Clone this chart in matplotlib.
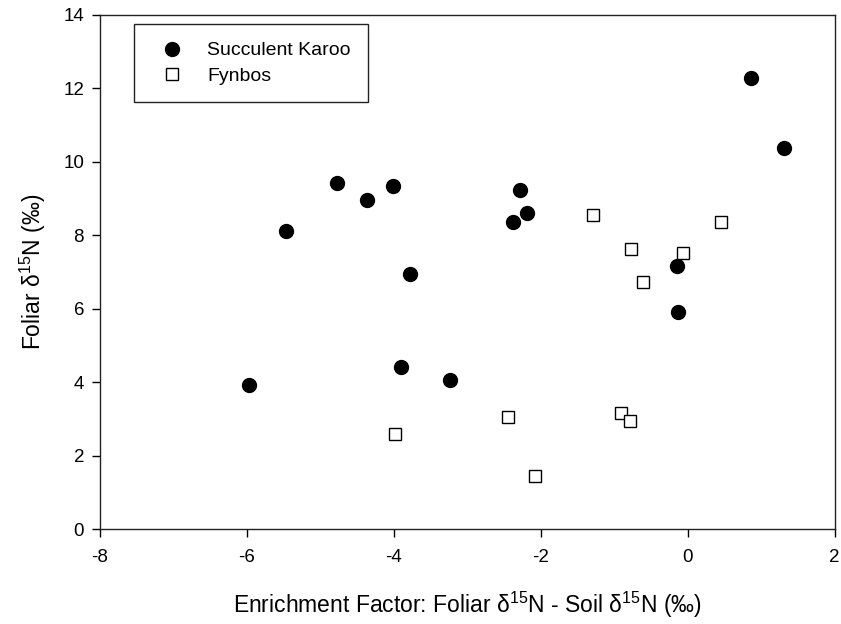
import matplotlib
matplotlib.use("Agg")
import matplotlib.pyplot as plt

plt.rcParams['font.family'] = ['Liberation Sans', 'DejaVu Sans']
plt.rcParams['mathtext.fontset'] = 'custom'
plt.rcParams['mathtext.rm'] = 'Liberation Sans'

# Succulent Karoo (filled circles)
sk_x = [-5.97, -5.47, -4.78, -4.37, -4.01, -3.78, -3.90, -3.24, -2.28, -2.19, -2.38, -0.14, -0.13, 0.86, 1.31]
sk_y = [3.93, 8.13, 9.42, 8.96, 9.35, 6.95, 4.42, 4.06, 9.22, 8.60, 8.36, 7.17, 5.90, 12.27, 10.39]

# Fynbos (open squares)
fy_x = [-1.29, -0.775, -0.07, -0.61, 0.45, -3.99, -2.45, -2.08, -0.91, -0.78]
fy_y = [8.55, 7.63, 7.51, 6.72, 8.37, 2.60, 3.04, 1.44, 3.15, 2.95]

xticks = [-8, -6, -4, -2, 0, 2]
yticks = [0, 2, 4, 6, 8, 10, 12, 14]

fig = plt.figure(figsize=(8.41, 6.24), dpi=100)
ax = fig.add_axes([0.1189, 0.1522, 0.8736, 0.8238])

ax.plot(sk_x, sk_y, 'o', color='black', markersize=10, linestyle='none', label='Succulent Karoo')
ax.plot(fy_x, fy_y, 's', markerfacecolor='white', markeredgecolor='black', markeredgewidth=1.0,
        markersize=8, linestyle='none', label='Fynbos')

ax.set_xlim(-8, 2)
ax.set_ylim(0, 14)
ax.set_xticks(xticks)
ax.set_yticks(yticks)
ax.set_xticklabels([str(t) for t in xticks])
ax.set_yticklabels([str(t) for t in yticks])
ax.tick_params(direction='out', length=5.5, width=1, labelsize=13.5, top=False, right=False)
ax.tick_params(axis='x', pad=9)
ax.tick_params(axis='y', pad=6)
for s in ax.spines.values():
    s.set_linewidth(1.0)
    s.set_color('#222222')

ax.set_xlabel('Enrichment Factor: Foliar δ$^{\\mathregular{15}}$N - Soil δ$^{\\mathregular{15}}$N (‰)', fontsize=16.5, labelpad=17)
ax.set_ylabel('Foliar δ$^{\\mathregular{15}}$N (‰)', fontsize=16.5, labelpad=11)

leg = ax.legend(loc='upper left', bbox_to_anchor=(0.046, 0.982), borderaxespad=0,
                fontsize=14, frameon=True, fancybox=False, shadow=False,
                handlelength=2.1, handletextpad=0.76, borderpad=0.9, labelspacing=0.39,
                markerscale=1.0)
leg.get_frame().set_edgecolor('#222222')
leg.get_frame().set_linewidth(1.0)
leg.get_frame().set_alpha(1)

fig.savefig('out.png', dpi=100)
